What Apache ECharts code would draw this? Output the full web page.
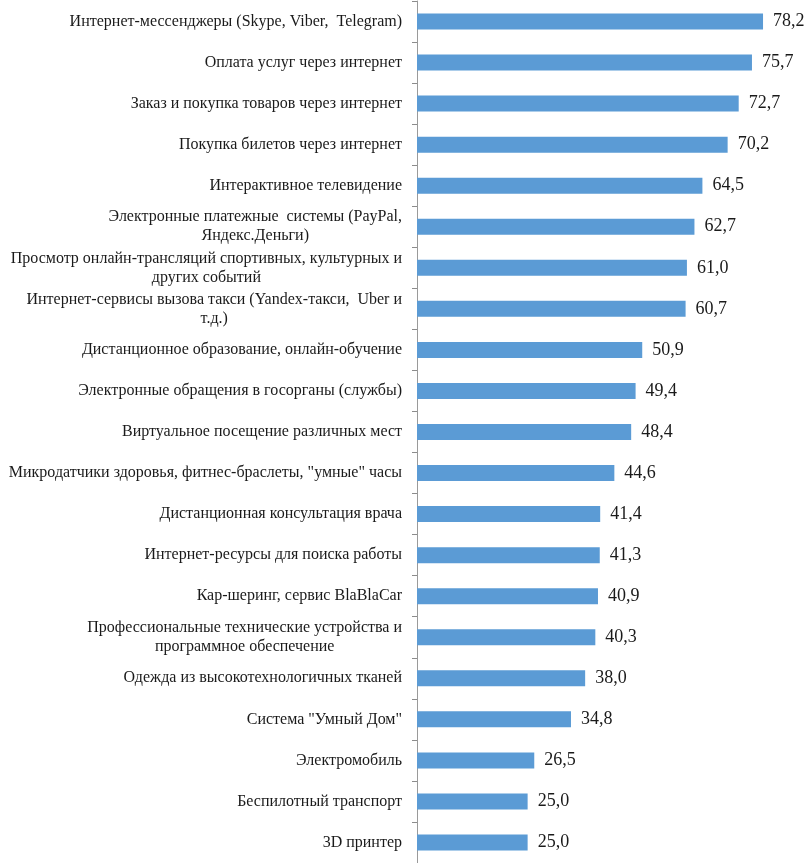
<!DOCTYPE html>
<html>
<head>
<meta charset="utf-8">
<script src="https://cdn.jsdelivr.net/npm/echarts@6/dist/echarts.min.js"></script>
<style>
  html, body { margin: 0; padding: 0; background: #fff; }
  #chart { width: 807px; height: 863px; }
</style>
</head>
<body>
<div id="chart"></div>
<script>
const categories = [
    'Интернет-мессенджеры (Skype, Viber,  Telegram)',
    'Оплата услуг через интернет',
    'Заказ и покупка товаров через интернет',
    'Покупка билетов через интернет',
    'Интерактивное телевидение',
    'Электронные платежные  системы (PayPal,\nЯндекс.Деньги)',
    'Просмотр онлайн-трансляций спортивных, культурных и\nдругих событий',
    'Интернет-сервисы вызова такси (Yandex-такси,  Uber и\nт.д.)',
    'Дистанционное образование, онлайн-обучение',
    'Электронные обращения в госорганы (службы)',
    'Виртуальное посещение различных мест',
    'Микродатчики здоровья, фитнес-браслеты, "умные" часы',
    'Дистанционная консультация врача',
    'Интернет-ресурсы для поиска работы',
    'Кар-шеринг, сервис BlaBlaCar',
    'Профессиональные технические устройства и\nпрограммное обеспечение',
    'Одежда из высокотехнологичных тканей',
    'Система "Умный Дом"',
    'Электромобиль',
    'Беспилотный транспорт',
    '3D принтер'
];

const values = [78.2, 75.7, 72.7, 70.2, 64.5, 62.7, 61.0, 60.7, 50.9, 49.4, 48.4,
    44.6, 41.4, 41.3, 40.9, 40.3, 38.0, 34.8, 26.5, 25.0, 25.0];

const serif = '"Liberation Serif", "DejaVu Serif", serif';

const chart = echarts.init(document.getElementById('chart'));

const option = {
    animation: false,
    grid: { left: 417, right: 36, top: 1, bottom: 0 },
    xAxis: {
        type: 'value',
        min: 0,
        max: 80,
        show: false
    },
    yAxis: {
        type: 'category',
        inverse: true,
        data: categories,
        axisLine: { show: true, lineStyle: { color: '#9a9a9a', width: 1 } },
        axisTick: { show: true, length: 5, lineStyle: { color: '#8c8c8c', width: 1 } },
        axisLabel: {
            margin: 15,
            color: '#1a1a1a',
            fontFamily: serif,
            fontSize: 16,
            lineHeight: 19,
            // center the lines of wrapped labels, like the original
            formatter: function(value) {
                return value.split('\n').map(line => '{c|' + line + '}').join('\n');
            },
            rich: {
                c: {
                    align: 'center',
                    color: '#1a1a1a',
                    fontFamily: serif,
                    fontSize: 16,
                    lineHeight: 19
                }
            }
        }
    },
    series: [{
        type: 'bar',
        data: values,
        barWidth: 16,
        itemStyle: { color: '#5b9bd5' },
        label: {
            show: true,
            position: 'right',
            distance: 10,
            color: '#1a1a1a',
            fontFamily: serif,
            fontSize: 18,
            formatter: params => params.value.toFixed(1).replace('.', ',')
        }
    }]
};

chart.setOption(option);
window.addEventListener('resize', () => chart.resize());
</script>
</body>
</html>
